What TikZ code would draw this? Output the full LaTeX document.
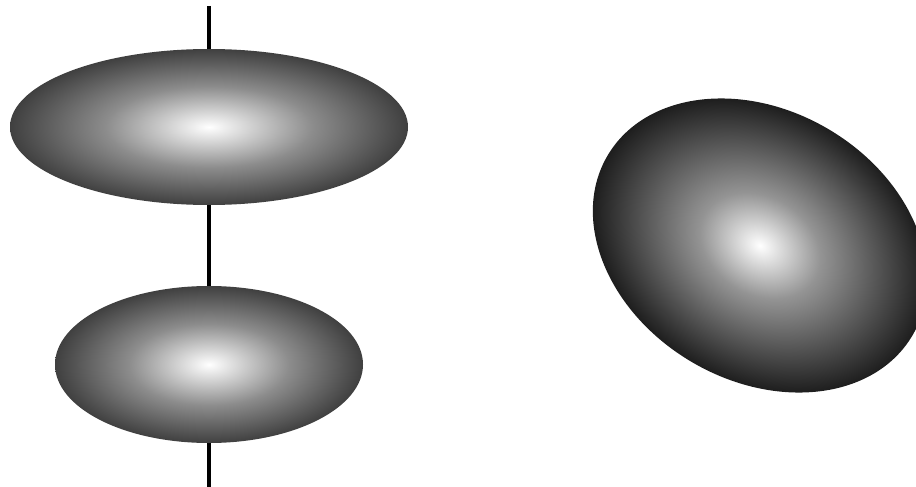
\documentclass[tikz,border=0pt]{standalone}
\pgfdeclareradialshading{greyballshade}{\pgfpoint{0bp}{0bp}}{color(0bp)=(white); color(13bp)=(black!45); color(35bp)=(black); color(50bp)=(black)}
\pgfdeclareradialshading{darkballshade}{\pgfpoint{0bp}{0bp}}{color(0bp)=(white); color(9bp)=(black!42); color(29bp)=(black); color(50bp)=(black)}
\tikzset{
  axisline/.style={line width=3.2pt, black},
  greyball/.style={shading=greyballshade},
  blackball/.style={shading=darkballshade}
}
\begin{document}
\begin{tikzpicture}[x=1pt,y=-1pt]
\useasboundingbox (0,0) rectangle (916,487);
\coordinate (axtop) at (209,6);
\coordinate (axbot) at (209,487);
\draw[axisline] (axtop) -- (axbot);
\shade[greyball] (209,127) ellipse [x radius=199, y radius=78];
\shade[greyball] (209,364.5) ellipse [x radius=154, y radius=78.5];
\begin{scope}[transform canvas={shift={(760,245.5)}, rotate=-30.6}]
\shade[blackball] (0,0) ellipse [x radius=177, y radius=135];
\end{scope}
\end{tikzpicture}
\end{document}
